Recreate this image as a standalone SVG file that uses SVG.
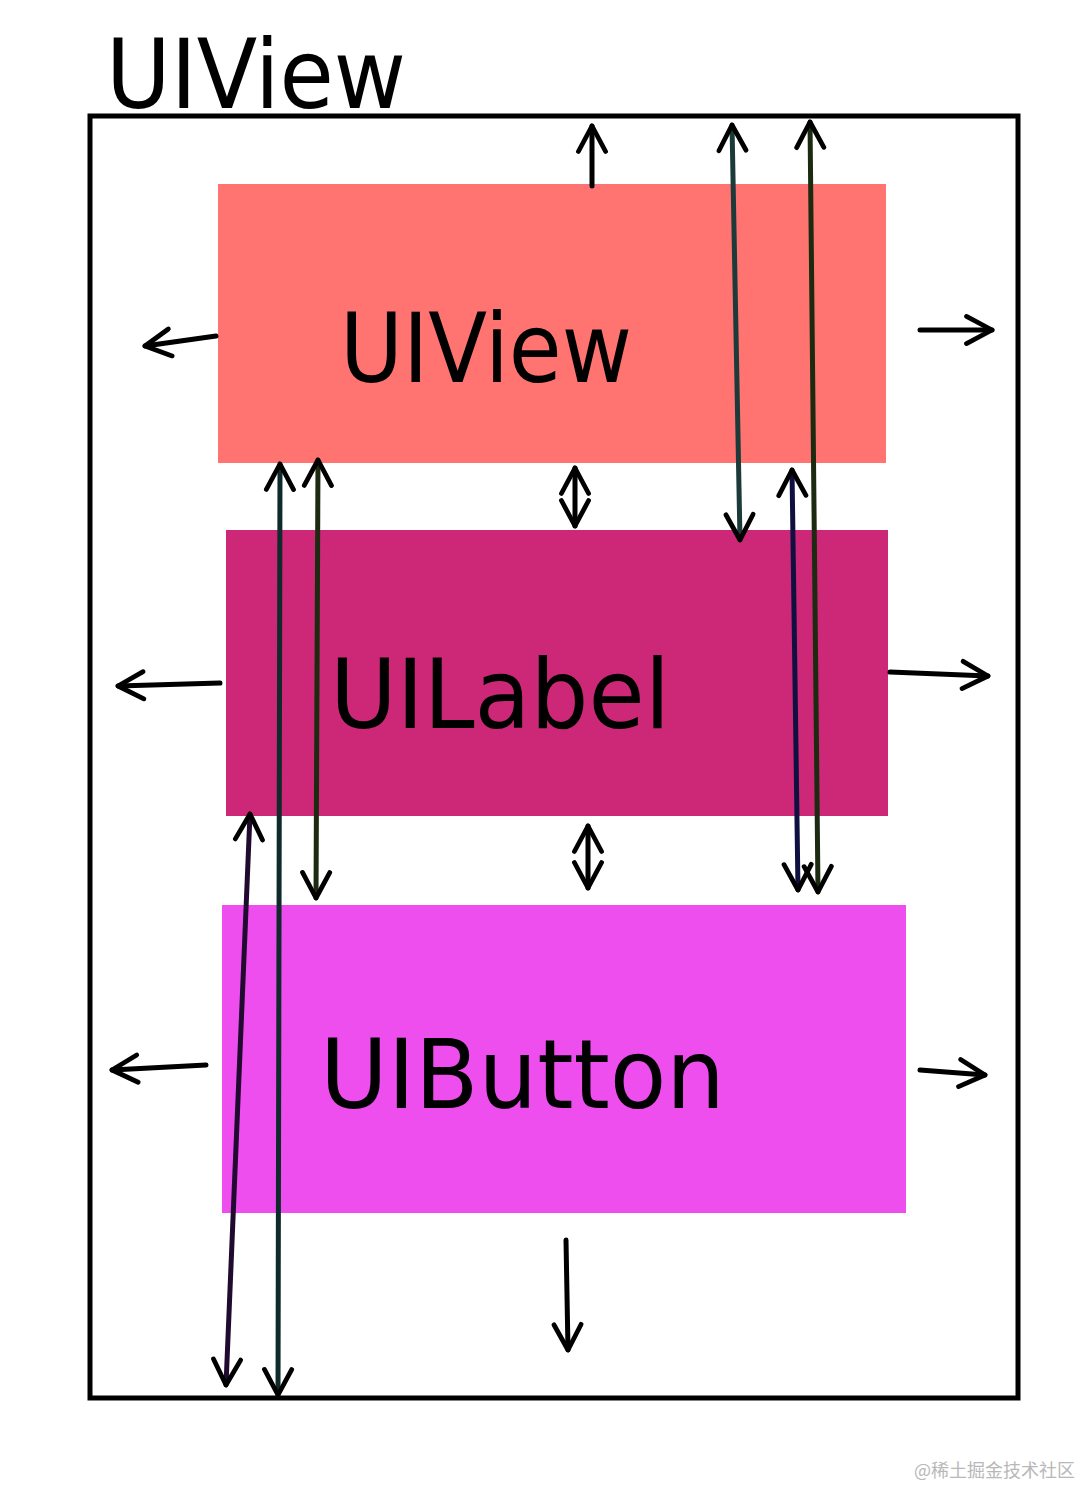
<svg xmlns="http://www.w3.org/2000/svg" width="1080" height="1488" viewBox="0 0 1080 1488">
<style>
.hw{font-family:"DejaVu Sans Condensed","DejaVu Sans",sans-serif;fill:#000;font-size:96px}
.a{fill:none;stroke:#000;stroke-width:5;stroke-linecap:round}
.wm{font-family:"Noto Sans CJK SC",sans-serif;fill:#b8b8b8;font-size:18px}
</style>
<defs>
<marker id="h" viewBox="0 0 20 20" refX="18" refY="10" markerWidth="34" markerHeight="34" orient="auto-start-reverse" markerUnits="userSpaceOnUse">
<path d="M3 2 L18 10 L3 18" fill="none" stroke="#000" stroke-width="2.8" stroke-linecap="round" stroke-linejoin="round"/>
</marker>
</defs>
<rect width="1080" height="1488" fill="#fff"/>
<text class="hw" x="106" y="108" textLength="300" lengthAdjust="spacingAndGlyphs">UIView</text>
<rect id="outer" x="90" y="116" width="928" height="1282" fill="none" stroke="#000" stroke-width="5"/>
<g id="uiview"><rect x="218" y="184" width="668" height="279" fill="#FF7470"/><text class="hw" x="340" y="382" textLength="292" lengthAdjust="spacingAndGlyphs">UIView</text></g>
<g id="uilabel"><rect x="226" y="530" width="662" height="286" fill="#CC2877"/><text class="hw" x="330" y="728" textLength="340" lengthAdjust="spacingAndGlyphs">UILabel</text></g>
<g id="uibutton"><rect x="222" y="905" width="684" height="308" fill="#EE4EEE"/><text class="hw" x="320" y="1108" textLength="405" lengthAdjust="spacingAndGlyphs">UIButton</text></g>
<g id="connectors">
<line class="a" x1="592" y1="186" x2="592" y2="126" marker-end="url(#h)"/>
<line class="a" x1="216" y1="336" x2="145" y2="346" marker-end="url(#h)"/>
<line class="a" x1="220" y1="683" x2="118" y2="686" marker-end="url(#h)"/>
<line class="a" x1="206" y1="1065" x2="112" y2="1070" marker-end="url(#h)"/>
<line class="a" x1="920" y1="330" x2="992" y2="330" marker-end="url(#h)"/>
<line class="a" x1="890" y1="672" x2="988" y2="676" marker-end="url(#h)"/>
<line class="a" x1="920" y1="1070" x2="985" y2="1075" marker-end="url(#h)"/>
<line class="a" x1="566" y1="1240" x2="568" y2="1350" marker-end="url(#h)"/>
<line class="a" x1="575" y1="468" x2="575" y2="526" marker-start="url(#h)" marker-end="url(#h)"/>
<line class="a" x1="588" y1="826" x2="588" y2="888" marker-start="url(#h)" marker-end="url(#h)"/>
<line class="a" x1="732" y1="125" x2="740" y2="540" marker-start="url(#h)" marker-end="url(#h)" style="stroke:#1c3a3a"/>
<line class="a" x1="810" y1="122" x2="818" y2="892" marker-start="url(#h)" marker-end="url(#h)" style="stroke:#1c2a10"/>
<line class="a" x1="792" y1="470" x2="798" y2="890" marker-start="url(#h)" marker-end="url(#h)" style="stroke:#101040"/>
<line class="a" x1="280" y1="464" x2="278" y2="1395" marker-start="url(#h)" marker-end="url(#h)" style="stroke:#0f2a2a"/>
<line class="a" x1="318" y1="460" x2="316" y2="898" marker-start="url(#h)" marker-end="url(#h)" style="stroke:#1c2a10"/>
<line class="a" x1="250" y1="814" x2="226" y2="1385" marker-start="url(#h)" marker-end="url(#h)" style="stroke:#200a30"/>
</g>
<text class="wm" x="914" y="1477">@稀土掘金技术社区</text>
</svg>
